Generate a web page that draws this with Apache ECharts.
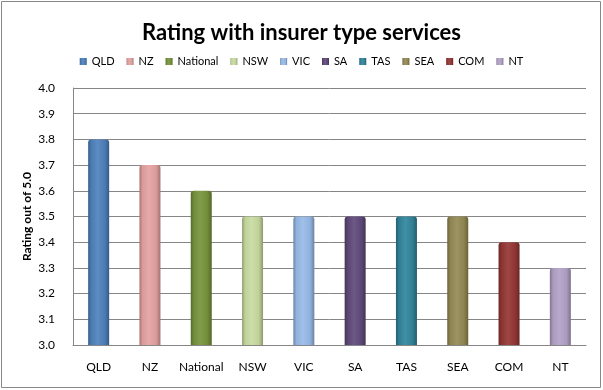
<!DOCTYPE html>
<html>
<head>
<meta charset="utf-8">
<script src="https://cdn.jsdelivr.net/npm/echarts@6/dist/echarts.min.js"></script>
<style>
html,body{margin:0;padding:0;background:#fff;}
#chart{width:603px;height:390px;}
</style>
</head>
<body>
<div id="chart"></div>
<script>
const categories = ['QLD','NZ','National','NSW','VIC','SA','TAS','SEA','COM','NT'];
const ratings = [3.8, 3.7, 3.6, 3.5, 3.5, 3.5, 3.5, 3.5, 3.4, 3.3];
const yTicks = [3.0, 3.1, 3.2, 3.3, 3.4, 3.5, 3.6, 3.7, 3.8, 3.9, 4.0];
const colors = ['#4F81BD','#E5A3A2','#77933C','#C9DCA0','#98BBE8','#604A7B','#31859C','#948A54','#953735','#B3A2C7'];

function shade(hex, f) {
  const n = parseInt(hex.slice(1), 16);
  let r = (n >> 16) & 255, g = (n >> 8) & 255, b = n & 255;
  if (f >= 1) {
    const t = f - 1;
    r = r + (255 - r) * t; g = g + (255 - g) * t; b = b + (255 - b) * t;
  } else {
    r *= f; g *= f; b *= f;
  }
  return 'rgb(' + Math.round(r) + ',' + Math.round(g) + ',' + Math.round(b) + ')';
}

const FONT = 'Lato';
const chart = echarts.init(document.getElementById('chart'), null, {renderer: 'canvas'});

const series = categories.map((name, i) => ({
  name: name,
  type: 'bar',
  stack: 'all',
  barWidth: 21,
  data: categories.map((c, j) => (j === i ? ratings[i] : null)),
  itemStyle: {
    color: new echarts.graphic.LinearGradient(0, 0, 1, 0, [
      {offset: 0, color: shade(colors[i], 0.72)},
      {offset: 0.15, color: shade(colors[i], 0.95)},
      {offset: 0.45, color: shade(colors[i], 1.08)},
      {offset: 0.8, color: shade(colors[i], 0.95)},
      {offset: 1, color: shade(colors[i], 0.7)}
    ]),
    borderRadius: [3, 3, 0, 0]
  }
}));

chart.setOption({
  animation: false,
  color: colors,
  title: {
    text: 'Rating with insurer type services',
    left: 'center',
    top: 17,
    textStyle: {fontFamily: FONT, fontSize: 22, fontWeight: 'bold', color: '#000'}
  },
  legend: {
    data: categories.map(c => ({name: c, textStyle: {color: '#000'}})),
    top: 51,
    left: 'center',
    itemWidth: 7,
    itemHeight: 7,
    itemGap: 12,
    icon: 'rect',
    textStyle: {fontFamily: FONT, fontSize: 11, color: '#000'}
  },
  grid: {left: 73, right: 17, top: 88, bottom: 45, containLabel: false},
  xAxis: {
    type: 'category',
    data: categories,
    axisLine: {lineStyle: {color: '#868686'}},
    axisTick: {show: false},
    axisLabel: {fontFamily: FONT, fontSize: 12, color: '#000', margin: 16, interval: 0}
  },
  yAxis: {
    type: 'value',
    min: yTicks[0],
    max: yTicks[yTicks.length - 1],
    interval: 0.1,
    name: 'Rating out of 5.0',
    nameLocation: 'middle',
    nameRotate: 90,
    nameGap: 40,
    nameMoveOverlap: false,
    nameTextStyle: {fontFamily: FONT, fontSize: 12, fontWeight: 'bold', color: '#000'},
    axisLine: {show: true, lineStyle: {color: '#868686'}},
    axisTick: {show: false},
    splitLine: {lineStyle: {color: '#868686'}},
    axisLabel: {fontFamily: FONT, fontSize: 12, color: '#000', margin: 18,
      formatter: v => v.toFixed(1)}
  },
  graphic: [{
    type: 'rect',
    shape: {x: 1.5, y: 1.5, width: 599, height: 386},
    style: {fill: 'none', stroke: '#888', lineWidth: 1},
    silent: true
  }],
  series: series
});
</script>
</body>
</html>
